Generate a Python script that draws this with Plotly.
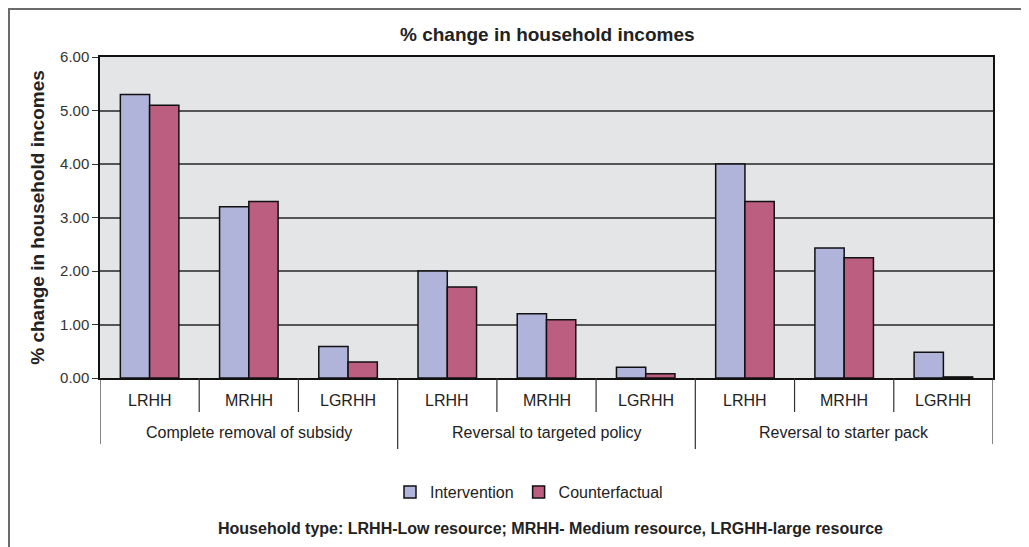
import plotly.graph_objects as go

policies = ["Complete removal of subsidy", "Reversal to targeted policy", "Reversal to starter pack"]
household_types = ["LRHH", "MRHH", "LGRHH"]
intervention = [5.30, 3.20, 0.59, 2.00, 1.20, 0.20, 4.00, 2.43, 0.48]
counterfactual = [5.10, 3.30, 0.30, 1.70, 1.09, 0.08, 3.30, 2.25, 0.02]
y_ticks = [0, 1, 2, 3, 4, 5, 6]

n = len(policies) * len(household_types)
xpos = list(range(n))

OFF = 8  # page body offset
W, H = 1029, 547
L, T = 100 - OFF, 57 - OFF
PR, PB = 993 - OFF, 378 - OFF
R, B = W - PR, H - PB
pw, ph = PR - L, PB - T

def py(p):
    return (PB - (p - OFF)) / ph

def px(p):
    return ((p - OFF) - L) / pw

narrow = "Liberation Sans Narrow, Arial Narrow, Liberation Sans, Arial, sans-serif"
sans = "Liberation Sans, Arial, sans-serif"

fig = go.Figure()
fig.add_trace(go.Bar(x=xpos, y=intervention, name="Intervention",
                     marker=dict(color="#B0B4DA", line=dict(color="#111111", width=1.5))))
fig.add_trace(go.Bar(x=xpos, y=counterfactual, name="Counterfactual",
                     marker=dict(color="#BB5E80", line=dict(color="#111111", width=1.5))))

shapes = []
annotations = []
for i in range(1, n):
    y0 = py(449) if i % len(household_types) == 0 else py(412)
    shapes.append(dict(type="line", xref="x", yref="paper", x0=i - 0.5, x1=i - 0.5,
                       y0=y0, y1=0, line=dict(color="#333333", width=1.2)))
for xe in [-0.5, n - 0.5]:
    shapes.append(dict(type="line", xref="x", yref="paper", x0=xe, x1=xe,
                       y0=py(444), y1=0, line=dict(color="#333333", width=1.2)))
shapes.append(dict(type="rect", xref="paper", yref="paper",
                   x0=px(9), x1=px(1028), y0=py(570), y1=py(9),
                   line=dict(color="#6b6b6b", width=2), fillcolor="rgba(0,0,0,0)", layer="below"))

for i in range(n):
    annotations.append(dict(x=i, y=py(401), xref="x", yref="paper",
                            text=household_types[i % len(household_types)], showarrow=False,
                            font=dict(family=narrow, size=16, color="#222222"),
                            xanchor="center", yanchor="middle"))
for g, p in enumerate(policies):
    annotations.append(dict(x=g * len(household_types) + 1, y=py(432), xref="x", yref="paper",
                            text=p, showarrow=False,
                            font=dict(family=narrow, size=16, color="#222222"),
                            xanchor="center", yanchor="middle"))
annotations.append(dict(x=px(550), y=py(528), xref="paper", yref="paper",
                        text="<b>Household type: LRHH-Low resource; MRHH- Medium resource, LRGHH-large resource</b>",
                        showarrow=False, font=dict(family=sans, size=16, color="#222222"),
                        xanchor="center", yanchor="middle"))
annotations.append(dict(x=px(547), y=py(34), xref="paper", yref="paper",
                        text="<b>% change in household incomes</b>",
                        showarrow=False, font=dict(family=sans, size=19, color="#222222"),
                        xanchor="center", yanchor="middle"))

fig.update_layout(
    width=W, height=H,
    margin=dict(l=L, r=R, t=T, b=B),
    paper_bgcolor="white",
    plot_bgcolor="#E4E5E7",
    barmode="group",
    bargap=0.41,
    bargroupgap=0,
    showlegend=True,
    legend=dict(orientation="h", x=px(529), xanchor="center", y=py(492), yanchor="middle",
                font=dict(family=narrow, size=16, color="#222222"), itemwidth=30,
                bgcolor="rgba(0,0,0,0)"),
    xaxis=dict(range=[-0.5, n - 0.5], showticklabels=False, ticks="", showgrid=False,
               zeroline=False, showline=True, linecolor="#111111", linewidth=1.5, mirror=True),
    yaxis=dict(range=[0, 6], tickvals=y_ticks, tickformat=".2f", ticks="outside", ticklen=6,
               tickcolor="#333333", showgrid=True, gridcolor="#555555", gridwidth=1.5,
               zeroline=False, showline=True, linecolor="#111111", linewidth=1.5, mirror=True,
               tickfont=dict(family=sans, size=15, color="#333333"),
               title=dict(text="<b>% change in household incomes</b>", standoff=10,
                          font=dict(family=sans, size=19, color="#222222"))),
    shapes=shapes,
    annotations=annotations,
)

fig.write_html("out.html")
